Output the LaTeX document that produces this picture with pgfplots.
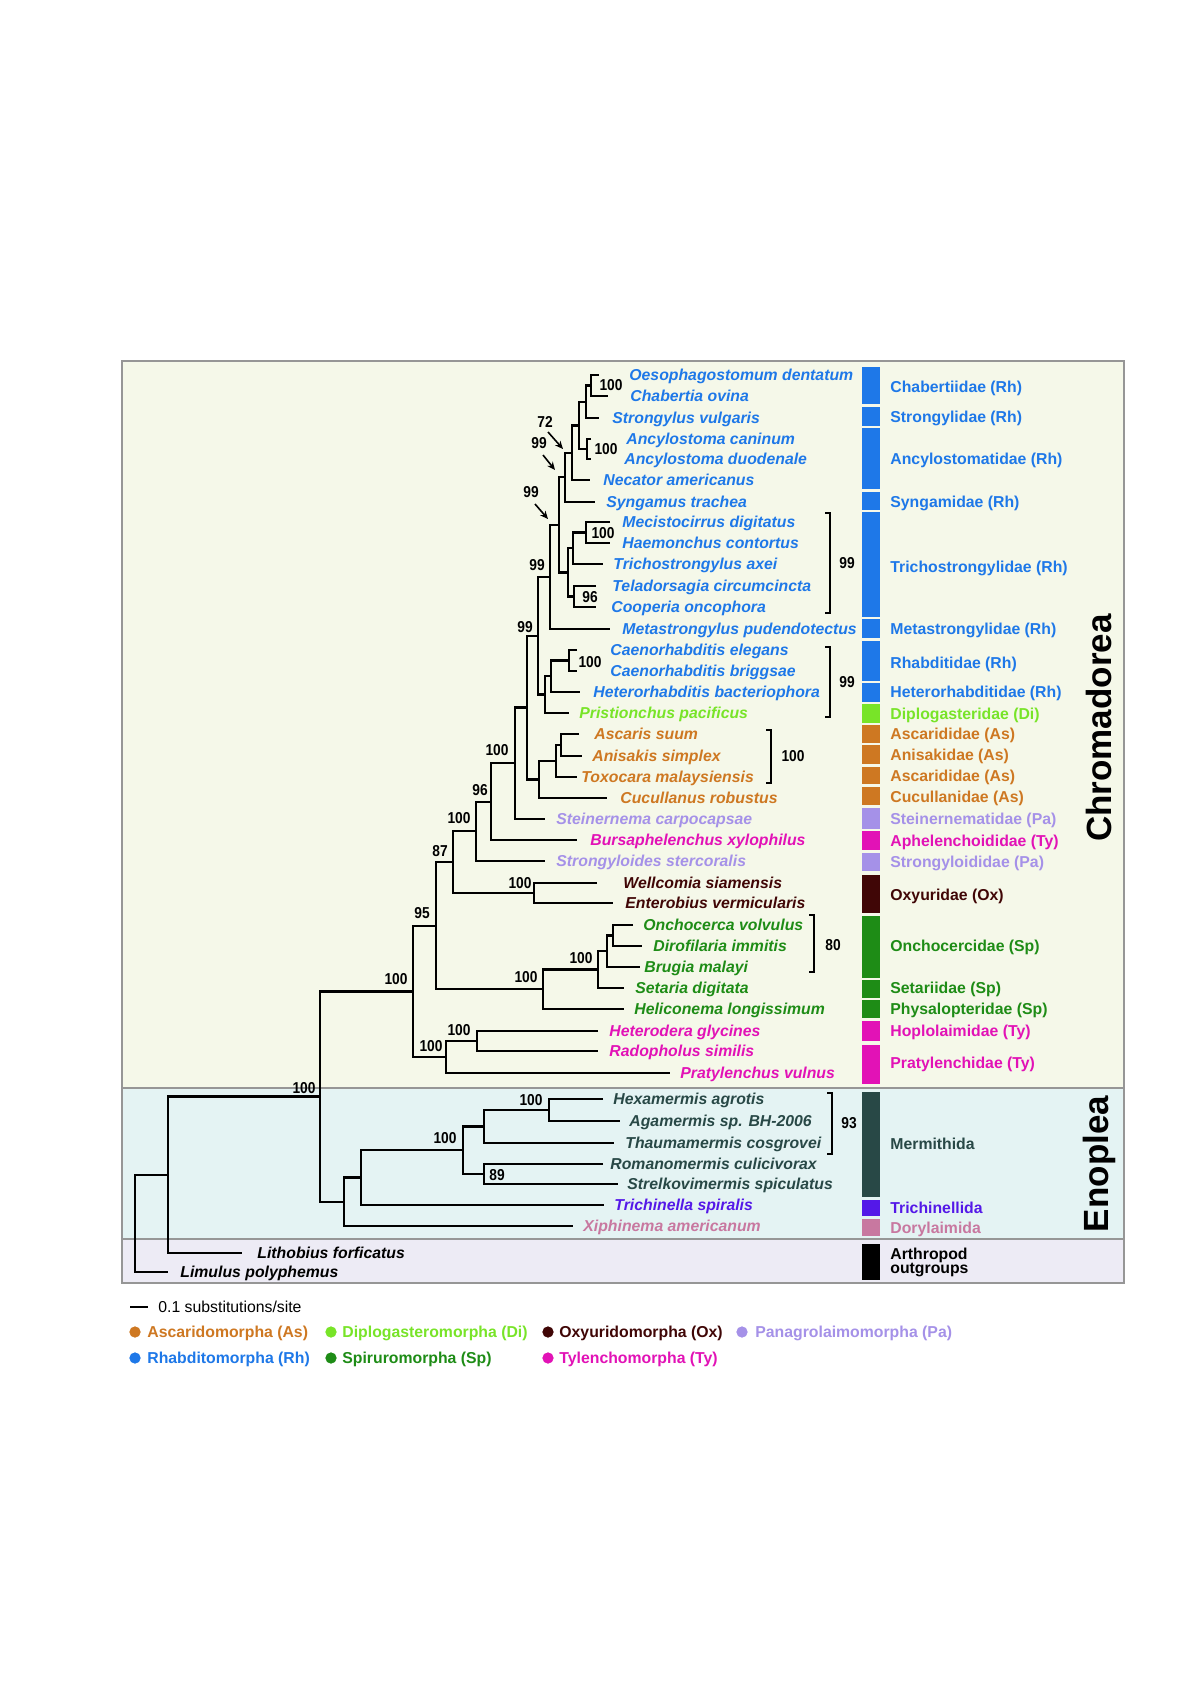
\documentclass[border=0pt]{standalone}
\usepackage{fontspec}
\setmainfont{Liberation Sans}
\newfontfamily\narrowfont[FakeStretch=0.87]{Liberation Sans}
\usepackage{pgfplots}
\pgfplotsset{compat=1.18}
\usetikzlibrary{arrows.meta}

\definecolor{rh}{RGB}{30,120,232}
\definecolor{di}{RGB}{120,228,40}
\definecolor{as}{RGB}{206,120,34}
\definecolor{ox}{RGB}{64,6,6}
\definecolor{pa}{RGB}{165,145,232}
\definecolor{sp}{RGB}{30,140,22}
\definecolor{ty}{RGB}{226,18,182}
\definecolor{me}{RGB}{40,72,70}
\definecolor{tr}{RGB}{84,24,232}
\definecolor{do}{RGB}{200,120,160}
\definecolor{chromabg}{RGB}{245,248,233}
\definecolor{enobg}{RGB}{228,243,243}
\definecolor{arthbg}{RGB}{237,235,245}
\definecolor{boxgray}{RGB}{150,150,150}

\newcommand{\spfont}{\bfseries\itshape\fontsize{7.9}{9}\selectfont}
\newcommand{\bsfont}{\narrowfont\bfseries\fontsize{7.9}{9}\selectfont}
\newcommand{\fmfont}{\bfseries\fontsize{7.9}{9}\selectfont}

% leaf label: x, y, colour, name
\newcommand{\leaf}[4]{\node[anchor=base west, yshift=-2.8pt, inner sep=0pt, text=#3, font=\spfont] at (axis cs:#1,#2) {#4};}
% bootstrap value
\newcommand{\boot}[3]{\node[font=\bsfont, inner sep=0pt] at (axis cs:#1,#2) {#3};}
% one node of the tree: child1 -- node -- child2
\newcommand{\br}[1]{\addplot[black, line width=1.15pt] coordinates {#1};}
% colour bar segment with family name
\newcommand{\famseg}[5]{\addplot[fill=#1, draw=none] coordinates {(862,#2)(880,#2)(880,#3)(862,#3)} --cycle;
  \node[anchor=base west, yshift=-2.8pt, inner sep=0pt, text=#1, font=\fmfont] at (axis cs:890,#4) {#5};}
% legend entry
\newcommand{\legitem}[5]{\addplot[only marks, mark=*, mark size=2.6pt, color=#1] coordinates {(#2,#3)};
  \node[anchor=base west, yshift=-2.8pt, inner sep=0pt, text=#1, font=\fmfont] at (axis cs:#4,#3) {#5};}

\begin{document}
\begin{tikzpicture}
\begin{axis}[
  scale only axis, width=600pt, height=849pt,
  xmin=0, xmax=1200, ymin=0, ymax=1698, y dir=reverse,
  enlargelimits=false, hide axis, clip=false,
]
% page and clade boxes
\addplot[fill=white, draw=none] coordinates {(0,0)(1200,0)(1200,1698)(0,1698)} --cycle;
\addplot[fill=chromabg, draw=boxgray, line width=0.6pt] coordinates {(122,361)(1124,361)(1124,1088)(122,1088)} --cycle;
\addplot[fill=enobg, draw=boxgray, line width=0.6pt] coordinates {(122,1088)(1124,1088)(1124,1239)(122,1239)} --cycle;
\addplot[fill=arthbg, draw=boxgray, line width=0.6pt] coordinates {(122,1239)(1124,1239)(1124,1283)(122,1283)} --cycle;

% tree
\br{(599,375)(591,375)(591,396)(608,396)}
\br{(591,385.5)(586,385.5)(586,418)(599,418)}
\br{(591,439)(587,439)(587,459)(591,459)}
\br{(586,401.75)(579,401.75)(579,449)(587,449)}
\br{(579,425.4)(572,425.4)(572,480)(590,480)}
\br{(572,452.7)(565,452.7)(565,502)(595,502)}
\br{(610,522)(586,522)(586,543)(610,543)}
\br{(586,532.5)(573,532.5)(573,564)(603,564)}
\br{(596,586)(574,586)(574,607)(596,607)}
\br{(573,548.25)(568,548.25)(568,596.5)(574,596.5)}
\br{(565,477.3)(559,477.3)(559,572.4)(568,572.4)}
\br{(559,524.8)(550,524.8)(550,629)(610,629)}
\br{(577,650)(569,650)(569,671)(577,671)}
\br{(569,660.5)(551,660.5)(551,692)(580,692)}
\br{(551,676.25)(545,676.25)(545,713)(569,713)}
\br{(550,576.9)(538,576.9)(538,694.6)(545,694.6)}
\br{(579,734)(561,734)(561,756)(582,756)}
\br{(561,745)(556,745)(556,777)(577,777)}
\br{(556,761)(539,761)(539,798)(607,798)}
\br{(538,635.8)(527,635.8)(527,779.5)(539,779.5)}
\br{(527,707.6)(515,707.6)(515,819)(545,819)}
\br{(515,763.3)(491,763.3)(491,840)(577,840)}
\br{(491,801.7)(476,801.7)(476,861)(545,861)}
\br{(597,883)(534,883)(534,903)(613,903)}
\br{(476,831.3)(453,831.3)(453,893)(534,893)}
\br{(633,925)(613,925)(613,946)(642,946)}
\br{(613,935.5)(607,935.5)(607,967)(640,967)}
\br{(607,951.25)(598,951.25)(598,988)(624,988)}
\br{(598,969.6)(543,969.6)(543,1009)(624,1009)}
\br{(453,862.2)(436,862.2)(436,989.3)(543,989.3)}
\br{(598,1031)(477,1031)(477,1051)(598,1051)}
\br{(477,1041)(446,1041)(446,1073)(670,1073)}
\br{(436,925.7)(413,925.7)(413,1057)(446,1057)}
\br{(603,1099)(549,1099)(549,1121)(620,1121)}
\br{(549,1110)(484,1110)(484,1143)(614,1143)}
\br{(603,1164)(484,1164)(484,1184)(618,1184)}
\br{(484,1126.5)(463,1126.5)(463,1174)(484,1174)}
\br{(463,1150.25)(361,1150.25)(361,1205)(604,1205)}
\br{(361,1177.6)(344,1177.6)(344,1226)(573,1226)}
\br{(413,991.4)(320,991.4)(320,1201.8)(344,1201.8)}
\br{(320,1096.6)(168,1096.6)(168,1253)(242,1253)}
\br{(168,1174.8)(135,1174.8)(135,1272)(168,1272)}

% brackets for grouped support values
\addplot[black, line width=1.15pt] coordinates {(825,513)(830,513)(830,613)(825,613)};
\addplot[black, line width=1.15pt] coordinates {(825,647)(830,647)(830,717)(825,717)};
\addplot[black, line width=1.15pt] coordinates {(766,730)(771,730)(771,783)(766,783)};
\addplot[black, line width=1.15pt] coordinates {(809,915)(814,915)(814,972)(809,972)};
\addplot[black, line width=1.15pt] coordinates {(827,1093)(832,1093)(832,1154)(827,1154)};

% species
\leaf{629}{375}{rh}{Oesophagostomum dentatum}
\leaf{630}{396}{rh}{Chabertia ovina}
\leaf{612}{418}{rh}{Strongylus vulgaris}
\leaf{626}{439}{rh}{Ancylostoma caninum}
\leaf{624}{459}{rh}{Ancylostoma duodenale}
\leaf{603}{480}{rh}{Necator americanus}
\leaf{606}{502}{rh}{Syngamus trachea}
\leaf{622}{522}{rh}{Mecistocirrus digitatus}
\leaf{622}{543}{rh}{Haemonchus contortus}
\leaf{613}{564}{rh}{Trichostrongylus axei}
\leaf{612}{586}{rh}{Teladorsagia circumcincta}
\leaf{611}{607}{rh}{Cooperia oncophora}
\leaf{622}{629}{rh}{Metastrongylus pudendotectus}
\leaf{610}{650}{rh}{Caenorhabditis elegans}
\leaf{610}{671}{rh}{Caenorhabditis briggsae}
\leaf{593}{692}{rh}{Heterorhabditis bacteriophora}
\leaf{579}{713}{di}{Pristionchus pacificus}
\leaf{594}{734}{as}{Ascaris suum}
\leaf{592}{756}{as}{Anisakis simplex}
\leaf{581}{777}{as}{Toxocara malaysiensis}
\leaf{620}{798}{as}{Cucullanus robustus}
\leaf{556}{819}{pa}{Steinernema carpocapsae}
\leaf{590}{840}{ty}{Bursaphelenchus xylophilus}
\leaf{556}{861}{pa}{Strongyloides stercoralis}
\leaf{623}{883}{ox}{Wellcomia siamensis}
\leaf{625}{903}{ox}{Enterobius vermicularis}
\leaf{643}{925}{sp}{Onchocerca volvulus}
\leaf{653}{946}{sp}{Dirofilaria immitis}
\leaf{644}{967}{sp}{Brugia malayi}
\leaf{635}{988}{sp}{Setaria digitata}
\leaf{634}{1009}{sp}{Heliconema longissimum}
\leaf{609}{1031}{ty}{Heterodera glycines}
\leaf{609}{1051}{ty}{Radopholus similis}
\leaf{680}{1073}{ty}{Pratylenchus vulnus}
\leaf{613}{1099}{me}{Hexamermis agrotis}
\leaf{629}{1121}{me}{Agamermis sp. BH-2006}
\leaf{625}{1143}{me}{Thaumamermis cosgrovei}
\leaf{610}{1164}{me}{Romanomermis culicivorax}
\leaf{627}{1184}{me}{Strelkovimermis spiculatus}
\leaf{614}{1205}{tr}{Trichinella spiralis}
\leaf{583}{1226}{do}{Xiphinema americanum}
\leaf{257}{1253}{black}{Lithobius forficatus}
\leaf{180}{1272}{black}{Limulus polyphemus}

% support values
\boot{611}{385}{100}
\boot{606}{449}{100}
\boot{545}{422}{72}
\boot{539}{443}{99}
\boot{531}{492}{99}
\boot{603}{533}{100}
\boot{590}{597}{96}
\boot{537}{565}{99}
\boot{525}{627}{99}
\boot{590}{662}{100}
\boot{497}{750}{100}
\boot{480}{790}{96}
\boot{459}{818}{100}
\boot{440}{851}{87}
\boot{520}{883}{100}
\boot{422}{913}{95}
\boot{396}{979}{100}
\boot{526}{977}{100}
\boot{581}{958}{100}
\boot{431}{1046}{100}
\boot{459}{1030}{100}
\boot{304}{1088}{100}
\boot{531}{1100}{100}
\boot{445}{1138}{100}
\boot{497}{1175}{89}
\boot{847}{563}{99}
\boot{847}{682}{99}
\boot{793}{756}{100}
\boot{833}{945}{80}
\boot{849}{1123}{93}
\draw[-{Stealth[length=4pt,width=3.5pt]}, line width=0.8pt] (axis cs:548,432) -- (axis cs:563,449);
\draw[-{Stealth[length=4pt,width=3.5pt]}, line width=0.8pt] (axis cs:543,455) -- (axis cs:555,470);
\draw[-{Stealth[length=4pt,width=3.5pt]}, line width=0.8pt] (axis cs:535,504) -- (axis cs:548,519);

% colour bars and families
\famseg{rh}{367}{404}{387}{Chabertiidae (Rh)}
\famseg{rh}{407}{426}{417}{Strongylidae (Rh)}
\famseg{rh}{428}{489}{459}{Ancylostomatidae (Rh)}
\famseg{rh}{492}{510}{502}{Syngamidae (Rh)}
\famseg{rh}{512}{617}{567}{Trichostrongylidae (Rh)}
\famseg{rh}{619}{638}{629}{Metastrongylidae (Rh)}
\famseg{rh}{641}{681}{663}{Rhabditidae (Rh)}
\famseg{rh}{683}{702}{692}{Heterorhabditidae (Rh)}
\famseg{di}{704}{723}{714}{Diplogasteridae (Di)}
\famseg{as}{725}{743}{734}{Ascarididae (As)}
\famseg{as}{745}{764}{755}{Anisakidae (As)}
\famseg{as}{767}{784}{776}{Ascarididae (As)}
\famseg{as}{787}{805}{797}{Cucullanidae (As)}
\famseg{pa}{808}{829}{819}{Steinernematidae (Pa)}
\famseg{ty}{831}{850}{841}{Aphelenchoididae (Ty)}
\famseg{pa}{853}{871}{862}{Strongyloididae (Pa)}
\famseg{ox}{875}{913}{895}{Oxyuridae (Ox)}
\famseg{sp}{916}{978}{946}{Onchocercidae (Sp)}
\famseg{sp}{980}{998}{988}{Setariidae (Sp)}
\famseg{sp}{1000}{1018}{1009}{Physalopteridae (Sp)}
\famseg{ty}{1021}{1041}{1031}{Hoplolaimidae (Ty)}
\famseg{ty}{1045}{1084}{1063}{Pratylenchidae (Ty)}
\famseg{me}{1092}{1197}{1144}{Mermithida}
\famseg{tr}{1200}{1216}{1208}{Trichinellida}
\famseg{do}{1219}{1236}{1228}{Dorylaimida}
\famseg{black}{1244}{1280}{1254}{Arthropod}
\node[anchor=base west, yshift=-2.8pt, inner sep=0pt, font=\fmfont] at (axis cs:890,1268) {outgroups};

% class labels
\node[rotate=90, font=\bfseries\fontsize{17.5}{20}\selectfont] at (axis cs:1099,728) {Chromadorea};
\node[rotate=90, font=\bfseries\fontsize{17.5}{20}\selectfont] at (axis cs:1099,1164) {Enoplea};

% legend
\addplot[black, line width=1.15pt] coordinates {(130,1307)(148,1307)};
\node[anchor=base west, yshift=-2.8pt, inner sep=0pt, font=\fontsize{7.9}{9}\selectfont] at (axis cs:158,1307) {0.1 substitutions/site};
\legitem{as}{135}{1332}{147}{Ascaridomorpha (As)}
\legitem{di}{331}{1332}{342}{Diplogasteromorpha (Di)}
\legitem{ox}{548}{1332}{559}{Oxyuridomorpha (Ox)}
\legitem{pa}{742}{1332}{755}{Panagrolaimomorpha (Pa)}
\legitem{rh}{135}{1358}{147}{Rhabditomorpha (Rh)}
\legitem{sp}{331}{1358}{342}{Spiruromorpha (Sp)}
\legitem{ty}{548}{1358}{559}{Tylenchomorpha (Ty)}
\end{axis}
\end{tikzpicture}
\end{document}
